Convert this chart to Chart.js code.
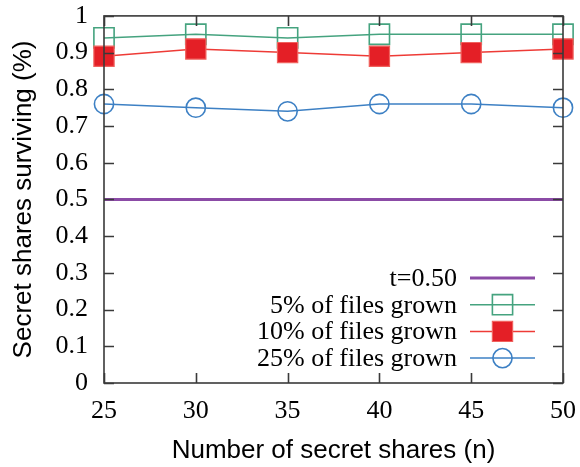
<!DOCTYPE html>
<html>
<head>
<meta charset="utf-8">
<script src="https://cdn.jsdelivr.net/npm/chart.js@4/dist/chart.umd.min.js"></script>
<style>
  html, body { margin: 0; padding: 0; background: #ffffff; }
  #wrap { width: 580px; height: 467px; }
</style>
</head>
<body>
<div id="wrap"><canvas id="c" width="580" height="467"></canvas></div>
<script>
// Number of secret shares (x axis)
const shares = [25, 30, 35, 40, 45, 50];
// Fraction of secret shares surviving, per share of grown files
const grown5 = [0.94, 0.95, 0.94, 0.95, 0.95, 0.95];
const grown10 = [0.89, 0.91, 0.90, 0.89, 0.90, 0.91];
const grown25 = [0.76, 0.75, 0.74, 0.76, 0.76, 0.75];
// Threshold t
const threshold = 0.50;
// Tick labels
const xTicks = [25, 30, 35, 40, 45, 50];
const yTicks = [0, 0.1, 0.2, 0.3, 0.4, 0.5, 0.6, 0.7, 0.8, 0.9, 1];
const yTickLabels = ['0', '0.1', '0.2', '0.3', '0.4', '0.5', '0.6', '0.7', '0.8', '0.9', '1'];

const SERIF = '"Liberation Serif", "Times New Roman", serif';
const SANS = '"Liberation Sans", Arial, Helvetica, sans-serif';
const AXIS_COLOR = '#3a3a3a';

const pts = ys => shares.map((x, i) => ({ x: x, y: ys[i] }));

const datasets = [
  {
    label: 't=0.50',
    data: [{ x: shares[0], y: threshold }, { x: shares[shares.length - 1], y: threshold }],
    borderColor: '#8b4ba6',
    borderWidth: 3,
    pointRadius: 0,
    order: 4
  },
  {
    label: '5% of files grown',
    data: pts(grown5),
    borderColor: '#45a37f',
    borderWidth: 1.5,
    pointStyle: 'rect',
    pointRadius: 14.3,
    pointBorderWidth: 1.6,
    pointBorderColor: '#45a37f',
    pointBackgroundColor: 'rgba(0,0,0,0)',
    order: 3
  },
  {
    label: '10% of files grown',
    data: pts(grown10),
    borderColor: '#ee3b36',
    borderWidth: 1.5,
    pointStyle: 'rect',
    pointRadius: 14.3,
    pointBorderWidth: 1.2,
    pointBorderColor: '#f0625e',
    pointBackgroundColor: '#e41f26',
    order: 2
  },
  {
    label: '25% of files grown',
    data: pts(grown25),
    borderColor: '#3d80c4',
    borderWidth: 1.5,
    pointStyle: 'circle',
    pointRadius: 9.6,
    pointBorderWidth: 1.6,
    pointBorderColor: '#3d80c4',
    pointBackgroundColor: 'rgba(0,0,0,0)',
    order: 1
  }
];
datasets.forEach(d => { d.tension = 0; d.clip = false; d.fill = false; d.pointHoverRadius = d.pointRadius; });

// Frame with inward ticks on all four sides (gnuplot style)
const framePlugin = {
  id: 'frame',
  afterDatasetsDraw(chart) {
    const { ctx, chartArea: a, scales } = chart;
    const tl = 10;
    ctx.save();
    ctx.strokeStyle = AXIS_COLOR;
    ctx.lineWidth = 1.6;
    ctx.beginPath();
    yTicks.forEach(v => {
      const y = Math.round(scales.y.getPixelForValue(v)) + 0.5;
      ctx.moveTo(a.left, y); ctx.lineTo(a.left + tl, y);
      ctx.moveTo(a.right, y); ctx.lineTo(a.right - tl, y);
    });
    xTicks.forEach(v => {
      const x = Math.round(scales.x.getPixelForValue(v)) + 0.5;
      ctx.moveTo(x, a.bottom); ctx.lineTo(x, a.bottom - tl);
      ctx.moveTo(x, a.top); ctx.lineTo(x, a.top + tl);
    });
    ctx.stroke();
    ctx.strokeRect(a.left, a.top, a.right - a.left, a.bottom - a.top);
    ctx.restore();
  }
};

// Key in the lower right: text right-aligned, sample line with marker to its right
const keyPlugin = {
  id: 'key',
  afterDraw(chart) {
    const { ctx, chartArea: a } = chart;
    const sampleRight = a.right - 28;
    const sampleLeft = sampleRight - 65;
    const textRight = sampleLeft - 13;
    const rowStep = 26.7;
    const firstRow = a.bottom - 105;
    ctx.save();
    ctx.font = '26px ' + SERIF;
    ctx.textAlign = 'right';
    ctx.textBaseline = 'middle';
    chart.data.datasets.forEach((d, i) => {
      const y = firstRow + i * rowStep;
      ctx.fillStyle = '#000000';
      ctx.fillText(d.label, textRight, y + 1);
      ctx.strokeStyle = d.borderColor;
      ctx.lineWidth = d.borderWidth;
      ctx.beginPath();
      ctx.moveTo(sampleLeft, y);
      ctx.lineTo(sampleRight, y);
      ctx.stroke();
      if (d.pointRadius > 0) {
        ctx.strokeStyle = d.pointBorderColor;
        ctx.fillStyle = d.pointBackgroundColor;
        ctx.lineWidth = d.pointBorderWidth;
        Chart.helpers.drawPoint(ctx, { pointStyle: d.pointStyle, radius: d.pointRadius, rotation: 0, borderWidth: d.pointBorderWidth }, (sampleLeft + sampleRight) / 2, y);
      }
    });
    ctx.restore();
  }
};

const noPad = s => { s.paddingLeft = 0; s.paddingRight = 0; s.paddingTop = 0; s.paddingBottom = 0; };

new Chart(document.getElementById('c'), {
  type: 'line',
  data: { datasets: datasets },
  options: {
    responsive: false,
    animation: false,
    events: [],
    layout: { padding: { top: 13, right: 17, left: 0, bottom: 0 } },
    plugins: { legend: { display: false }, tooltip: { enabled: false } },
    scales: {
      x: {
        type: 'linear',
        min: 25,
        max: 50,
        afterBuildTicks(s) { s.ticks = xTicks.map(v => ({ value: v })); },
        afterFit(s) { s.height = 84; noPad(s); },
        grid: { display: false, drawTicks: false },
        border: { display: false },
        ticks: {
          color: '#000000',
          font: { family: SERIF, size: 26 },
          padding: 13,
          maxRotation: 0,
          callback: v => String(v)
        },
        title: {
          display: true,
          text: 'Number of secret shares (n)',
          color: '#000000',
          font: { family: SANS, size: 26 },
          padding: { top: 0, bottom: 1 }
        }
      },
      y: {
        type: 'linear',
        min: 0,
        max: 1,
        afterBuildTicks(s) { s.ticks = yTicks.map(v => ({ value: v })); },
        afterFit(s) { s.width = 104; noPad(s); },
        grid: { display: false, drawTicks: false },
        border: { display: false },
        ticks: {
          color: '#000000',
          font: { family: SERIF, size: 26 },
          padding: 16,
          callback: (v, i) => yTickLabels[i]
        },
        title: {
          display: true,
          text: 'Secret shares surviving (%)',
          color: '#000000',
          font: { family: SANS, size: 26 },
          padding: { top: 8, bottom: 0 }
        }
      }
    }
  },
  plugins: [framePlugin, keyPlugin]
});
</script>
</body>
</html>
